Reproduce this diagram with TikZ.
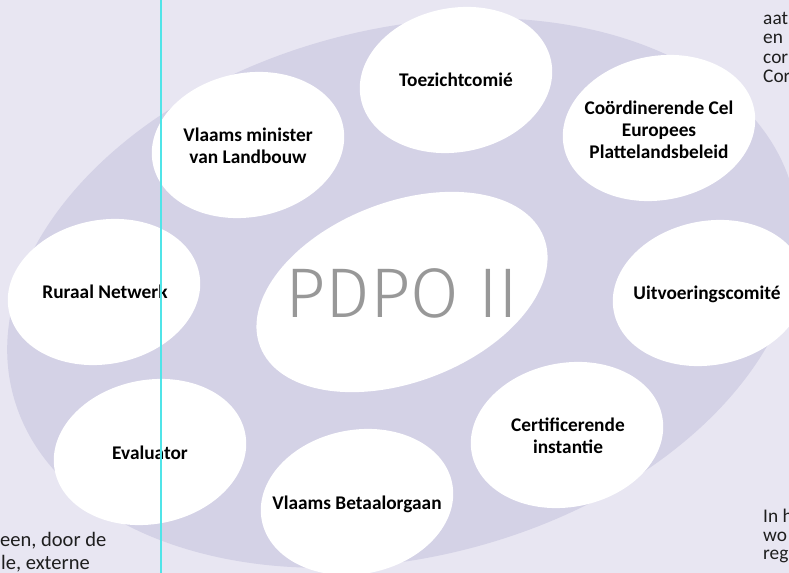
\documentclass[tikz,border=0pt]{standalone}
\usepackage{fontspec}
\setmainfont{Carlito}
\newfontfamily\pdpofont{Fira Sans Light}
\usepackage{tikz}

\definecolor{paper}{RGB}{232,230,242}
\definecolor{ring}{RGB}{212,210,230}
\definecolor{guide}{RGB}{80,228,232}
\definecolor{pdpogray}{RGB}{152,152,152}
\definecolor{bodytext}{RGB}{30,30,30}

\begin{document}
\begin{tikzpicture}[x=0.03cm,y=-0.03cm,
  blob/.style={fill=white},
  lbl/.style={font=\bfseries\fontsize{16.5}{19}\selectfont,align=center,text=black},
  side/.style={font=\fontsize{16.5}{17}\selectfont,text=bodytext,inner sep=0pt}]

%Define ellipse parameters
\def\ra{97}      %x radius of the small ellipses.
\def\rb{72}      %y radius of the small ellipses.
\def\tilt{11}    %rotation of the small ellipses.

% Define coordinates
\coordinate (mid) at (403,293);
\coordinate (toe) at (456,80);
\coordinate (min) at (248,145);
\coordinate (cel) at (659,128);
\coordinate (uit) at (709,293);
\coordinate (rur) at (104,292);
\coordinate (eva) at (150,452);
\coordinate (bet) at (357,502);
\coordinate (cer) at (567,435);
\coordinate (guidetop) at (161,0);
\coordinate (guidebot) at (161,573);

% Page
\fill[paper] (0,0) rectangle (789,573);
\useasboundingbox (0,0) rectangle (789,573);
\clip (0,0) rectangle (789,573);

% Big ellipse
\fill[ring,rotate around={14.5:(mid)}] (mid) ellipse [x radius=403,y radius=264];

% White ellipses
\fill[blob,rotate around={21:(402,292)}] (402,292) ellipse [x radius=152,y radius=90];
\fill[blob,rotate around={\tilt:(toe)}] (toe) ellipse [x radius=\ra,y radius=\rb];
\fill[blob,rotate around={\tilt:(min)}] (min) ellipse [x radius=\ra,y radius=\rb];
\fill[blob,rotate around={\tilt:(cel)}] (cel) ellipse [x radius=\ra,y radius=\rb];
\fill[blob,rotate around={\tilt:(uit)}] (uit) ellipse [x radius=\ra,y radius=\rb];
\fill[blob,rotate around={\tilt:(rur)}] (rur) ellipse [x radius=\ra,y radius=\rb];
\fill[blob,rotate around={\tilt:(eva)}] (eva) ellipse [x radius=\ra,y radius=\rb];
\fill[blob,rotate around={\tilt:(bet)}] (bet) ellipse [x radius=\ra,y radius=\rb];
\fill[blob,rotate around={\tilt:(cer)}] (cer) ellipse [x radius=\ra,y radius=\rb];

% Labels
\node[font=\pdpofont\fontsize{60}{62}\selectfont,text=pdpogray,inner sep=0pt] (pdpo) at (402,293) {PDPO II};
\node[lbl] (toezicht) at (toe) {Toezichtcomié};
\node[lbl] (minister) at (248,146) {Vlaams minister\\van Landbouw};
\node[lbl] (cel) at (659,130) {Coördinerende Cel\\Europees\\Plattelandsbeleid};
\node[lbl] (uitvoering) at (707,294) {Uitvoeringscomité};
\node[lbl] (ruraal) at (105,292) {Ruraal Netwerk};
\node[lbl] (evaluator) at (150,453) {Evaluator};
\node[lbl] (betaal) at (357,504) {Vlaams Betaalorgaan};
\node[lbl] (certif) at (568,436) {Certificerende\\instantie};

% Running text at the page edges
\foreach \w [count=\i] in {aat,en,cor,Cor}
  \node[side,anchor=base west] (topright\i) at (763,{5+19.5*\i}) {\w};
\foreach \w [count=\i] in {In h,wo,reg}
  \node[side,anchor=base west] (botright\i) at (763,{504+18.5*\i}) {\w};
\node[side,anchor=base west,font=\fontsize{17.5}{18}\selectfont] (botleft1) at (0,546) {een, door de};
\node[side,anchor=base west,font=\fontsize{17.5}{18}\selectfont] (botleft2) at (1,569) {le, externe};

% Guide line
\draw[guide,line width=1.1pt] (guidetop) -- (guidebot);

\end{tikzpicture}
\end{document}
